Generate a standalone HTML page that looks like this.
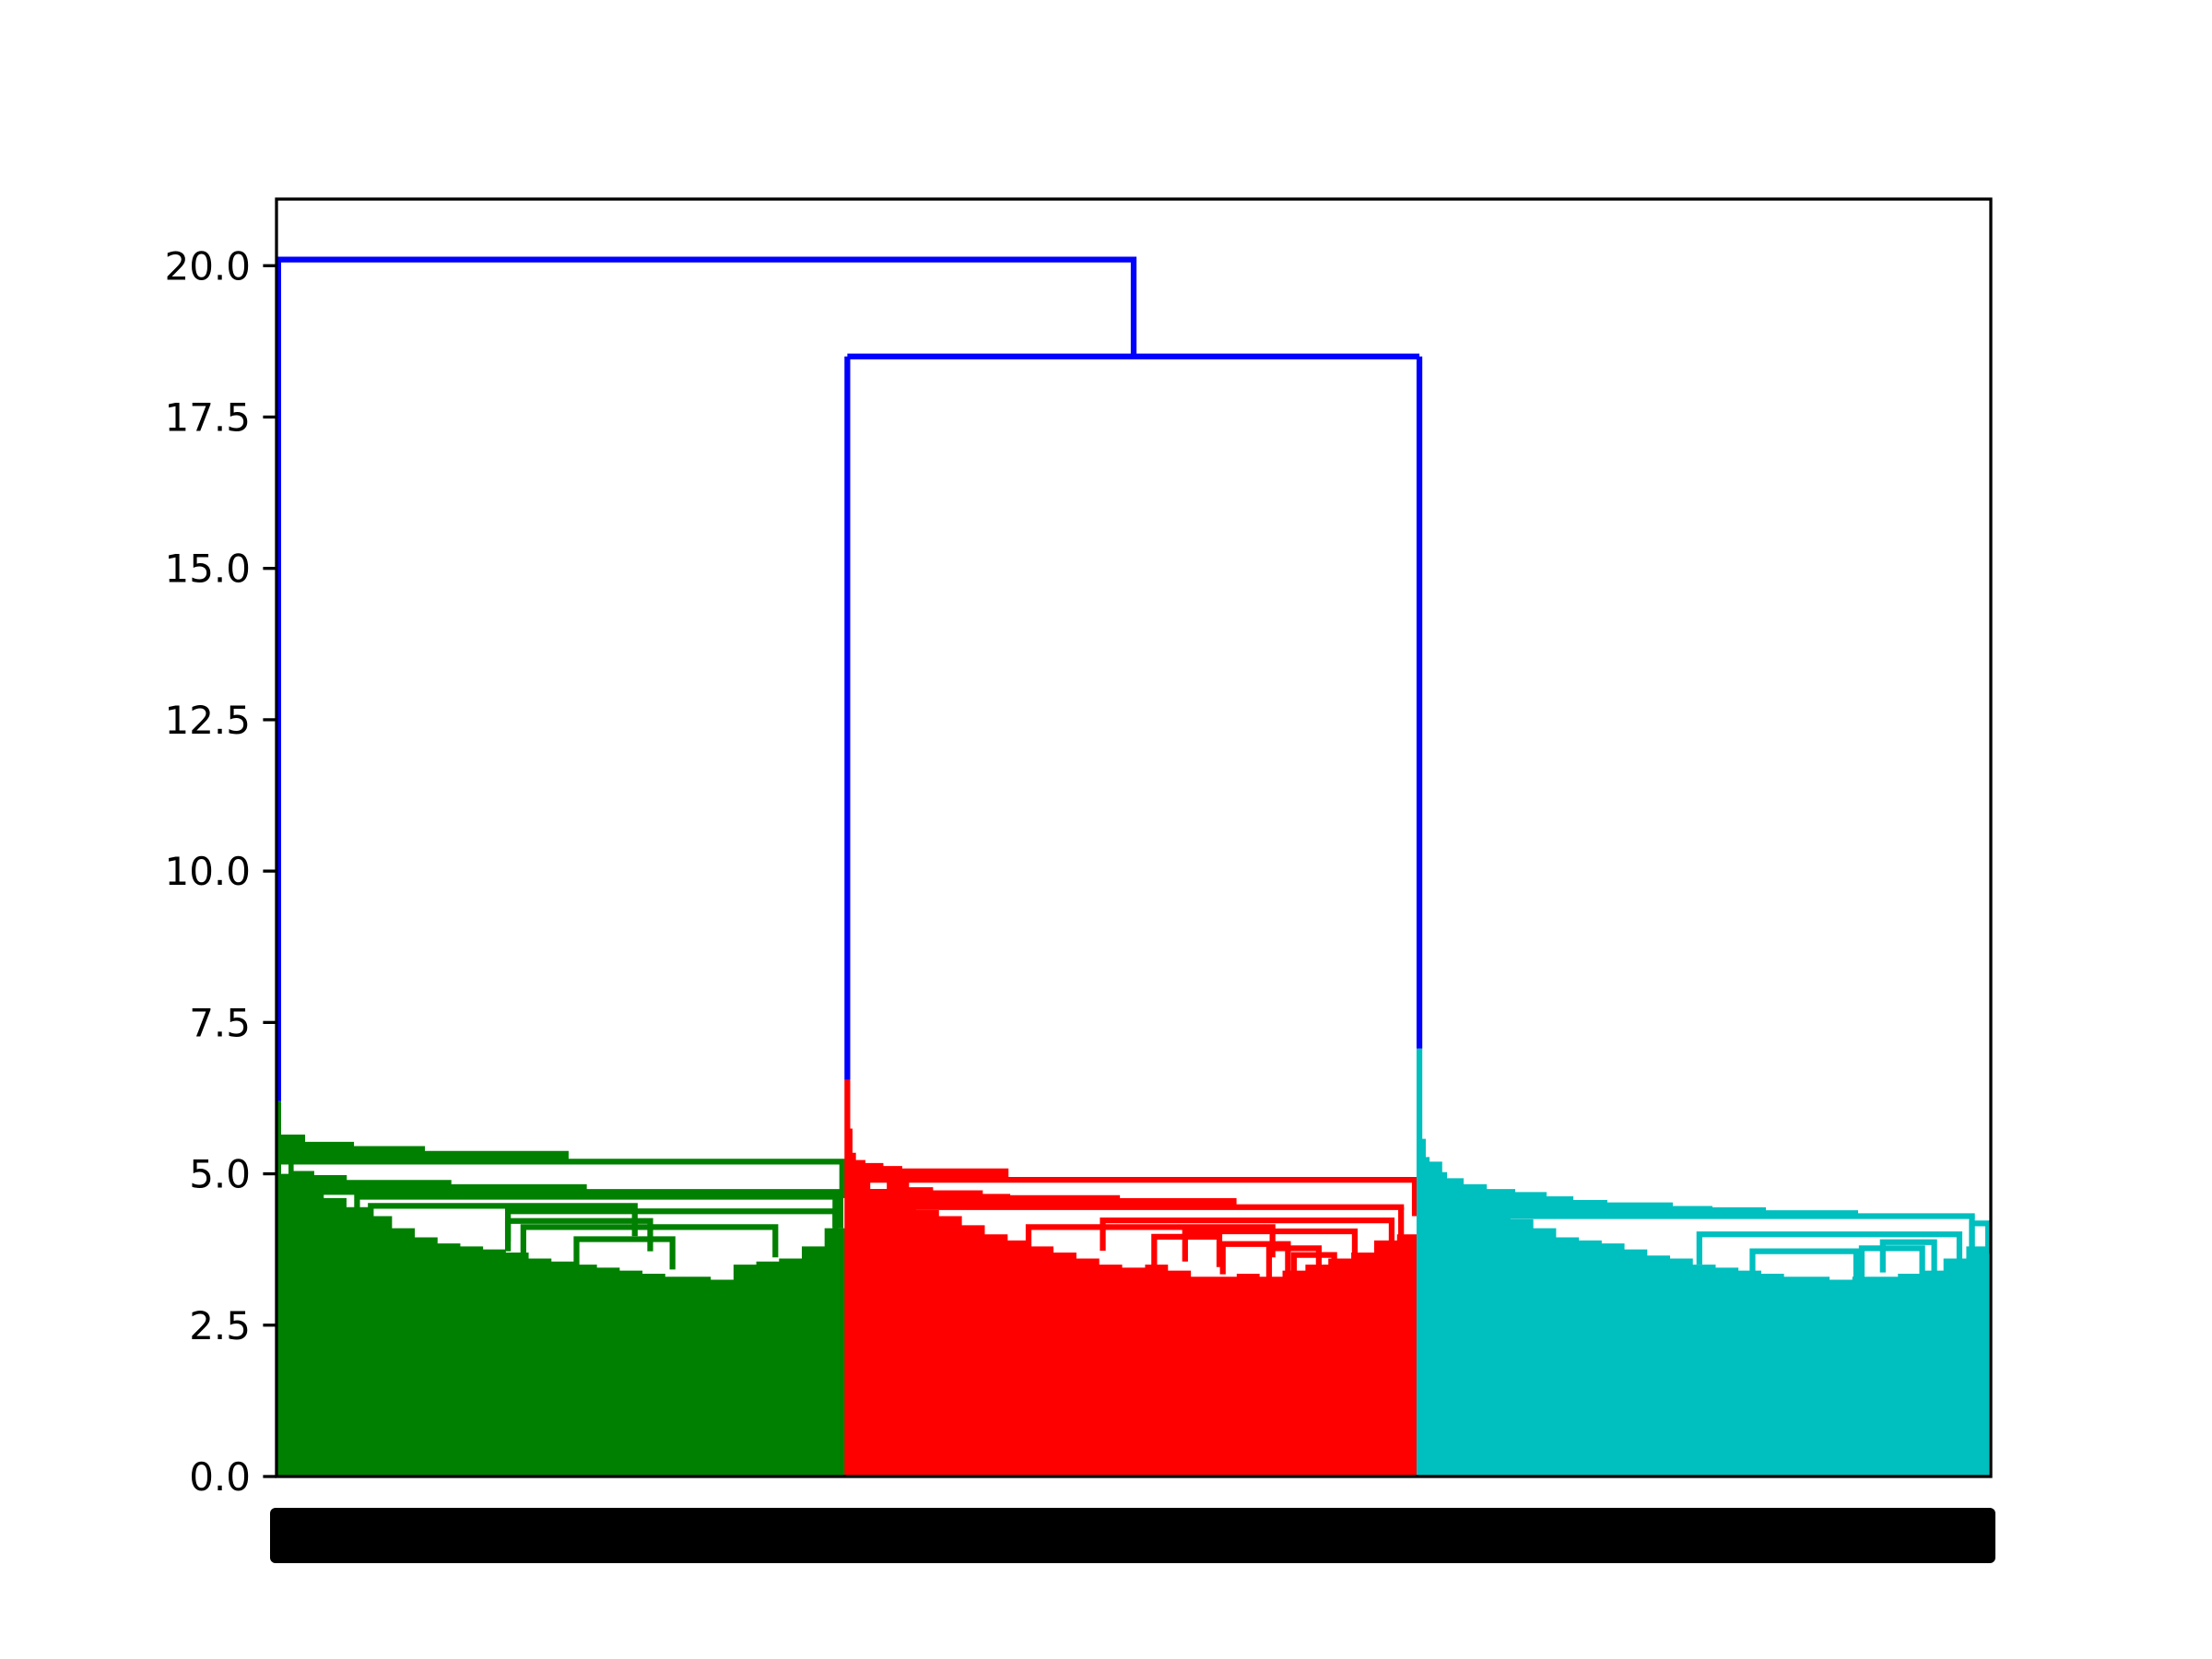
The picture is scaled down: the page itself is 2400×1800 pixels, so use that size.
<!DOCTYPE html>
<html><head><meta charset="utf-8"><title>Dendrogram</title>
<style>html,body{margin:0;padding:0;background:#fff}svg{display:block}</style></head>
<body>
<svg id="chart" width="2400" height="1800" viewBox="0 0 2400 1800" xmlns="http://www.w3.org/2000/svg">
<rect x="0" y="0" width="2400" height="1800" fill="#fff"/>
<g id="marks"></g>
<g id="leafLabels"></g>
<g id="yAxis"></g>
<rect x="300" y="216" width="1860" height="1386" fill="none" stroke="#000" stroke-width="3.3"/>
</svg>
<script>
// ---- data (leaf units 0..1000, heights in distance units) ----
const yTicks = [0, 2.5, 5, 7.5, 10, 12.5, 15, 17.5, 20];
const yTickLabels = ["0.0","2.5","5.0","7.5","10.0","12.5","15.0","17.5","20.0"];
const clusterNames = ["green","red","cyan"];
const clusterColors = ["#008000","#ff0000","#00bfbf"];
const clusterStart = [1, 333, 666.7];
const clusterEnd = [333, 667, 999];
const clusterTop = [6.2, 6.55, 7.07];
// upper link(s): [x0, x1, h]
const rootLink = [1, 500, 20.1];
const subLink = [333, 666.7, 18.5];
// staircase groups: start u, then steps [endU, h]
const greenG1Start = 1.1;
const greenG1 = [[16.7,5.6],[45.2,5.48],[86.6,5.41],[170.4,5.33],[330,5.2]];
const greenG2Start = 7;
const greenG2 = [[10,5.13],[22,5.0],[41,4.93],[102,4.85],[181,4.78],[329,4.7]];
const redG1Start = 333;
const redG1 = [[336,5.7],[338,5.3],[343.5,5.18],[354,5.13],[365,5.08],[427,5.04],[664,4.9]];
const redG2Start = 356;
const redG2 = [[369,4.83],[383,4.73],[412,4.68],[428,4.62],[492,4.6],[560,4.55],[656,4.45]];
const cyanG1Start = 666.7;
const cyanG1 = [[668.3,5.9],[670.4,5.53],[672.6,5.23],[675.8,5.08],[682.8,4.98],[692.5,4.88],[706,4.78],[722.6,4.7],[740.9,4.65],[756.5,4.58],[776.3,4.52],[814.5,4.48],[837.6,4.42],[868.8,4.4],[922.6,4.35],[989,4.3]];
// internal links [x0, x1, h]
const greenLinks = [[47,326,4.62],[55,209,4.47],[135,326,4.38],[135,218,4.22],[144,291,4.12],[175,231,3.92]];
const redLinks = [[482,650.5,4.23],[438.7,581,4.12],[530,629,4.05],[512,550,3.96],[552,590,3.84],[579,608,3.77],[593.5,617,3.66]];
const cyanLinks = [[830,981.7,4.0],[937,967,3.87],[924.7,960,3.77],[861,921.5,3.72],[989,998.4,4.18]];
// dense skyline heights (evenly spaced across each cluster)
const greenSky = [5.0,4.75,4.6,4.45,4.3,4.1,3.95,3.85,3.8,3.75,3.7,3.6,3.55,3.5,3.45,3.4,3.35,3.3,3.3,3.25,3.5,3.55,3.6,3.8,4.1];
const redSky = [4.9,4.75,4.6,4.4,4.3,4.15,4.0,3.9,3.8,3.7,3.6,3.5,3.45,3.5,3.4,3.3,3.3,3.35,3.3,3.4,3.5,3.6,3.7,3.9,4.0];
const cyanSky = [5.2,4.8,4.6,4.4,4.25,4.1,3.95,3.9,3.85,3.75,3.65,3.6,3.5,3.45,3.4,3.35,3.3,3.3,3.25,3.3,3.3,3.35,3.4,3.6,3.8];
const leafCount = 600;

// ---- axes ----
const X0=300, X1=2160, Y0=1602, YT=216, YMAX=21.1;
function xs(u){ return X0 + u*(X1-X0)/1000; }
function ys(v){ return Y0 - v*(Y0-YT)/YMAX; }
const NS="http://www.w3.org/2000/svg";
const marks=document.getElementById('marks');
const LW=6.25;
function mk(tag, attrs, parent){ const e=document.createElementNS(NS,tag); for(const k in attrs) e.setAttribute(k,attrs[k]); parent.appendChild(e); return e; }

function drawSky(start,end,sky,color,name){
  const n=sky.length, w=(end-start)/n;
  let pts=[[xs(start),Y0]];
  for(let i=0;i<n;i++){ pts.push([xs(start+i*w),ys(sky[i])]); pts.push([xs(start+(i+1)*w),ys(sky[i])]); }
  pts.push([xs(end),Y0]);
  const p=mk('polygon',{points:pts.map(q=>q.join(',')).join(' '),fill:color},marks);
  
  
}
function drawGroup(start,steps,color,name){
  let pts=[]; let x=start;
  pts.push([xs(start),ys(steps[0][1])-LW/2]);
  for(const s of steps){ pts.push([xs(x),ys(s[1])-LW/2]); pts.push([xs(s[0]),ys(s[1])-LW/2]); x=s[0]; }
  const last=steps[steps.length-1];
  pts.push([xs(last[0])+LW/2,ys(last[1])-LW/2]);
  pts.push([xs(last[0])+LW/2,ys(last[1])+LW/2]);
  pts.push([xs(start),ys(last[1])+LW/2]);
  const p=mk('polygon',{points:pts.map(q=>q.join(',')).join(' '),fill:color},marks);
  
  
  const d=mk('line',{x1:xs(last[0]),y1:ys(last[1]),x2:xs(last[0]),y2:ys(last[1]-0.6),stroke:color,'stroke-width':LW},marks);
  
  
}
function drawLink(l,color,name,drop){
  const p=mk('path',{d:`M${xs(l[0])},${ys(l[2]-drop)} V${ys(l[2])} H${xs(l[1])} V${ys(l[2]-drop)}`,fill:'none',stroke:color,'stroke-width':LW},marks);
  
  
}

const skies=[greenSky,redSky,cyanSky];
const links=[greenLinks,redLinks,cyanLinks];
for(let c=0;c<3;c++){
  drawSky(clusterStart[c],clusterEnd[c],skies[c],clusterColors[c],clusterNames[c]);
}
drawGroup(greenG2Start,greenG2,clusterColors[0],'green');
drawGroup(greenG1Start,greenG1,clusterColors[0],'green');
drawGroup(redG2Start,redG2,clusterColors[1],'red');
drawGroup(redG1Start,redG1,clusterColors[1],'red');
drawGroup(cyanG1Start,cyanG1,clusterColors[2],'cyan');
for(let c=0;c<3;c++){
  for(const l of links[c]) drawLink(l,clusterColors[c],clusterNames[c]+'-link',0.5);
  const st=mk('line',{x1:xs(clusterStart[c]),y1:ys(clusterTop[c]),x2:xs(clusterStart[c]),y2:Y0,stroke:clusterColors[c],'stroke-width':LW},marks);
  
  
}
// blue upper links
drawLink([subLink[0],subLink[1],subLink[2]],'#0000ff','link-red-cyan',0);
const l1=mk('line',{x1:xs(subLink[0]),y1:ys(subLink[2]),x2:xs(subLink[0]),y2:ys(clusterTop[1]),stroke:'#0000ff','stroke-width':LW},marks);


const l2=mk('line',{x1:xs(subLink[1]),y1:ys(subLink[2]),x2:xs(subLink[1]),y2:ys(clusterTop[2]),stroke:'#0000ff','stroke-width':LW},marks);


const rootH=mk('path',{d:`M${xs(rootLink[0])},${ys(clusterTop[0])} V${ys(rootLink[2])} H${xs(rootLink[1])} V${ys(subLink[2])}`,fill:'none',stroke:'#0000ff','stroke-width':LW},marks);



// ---- y axis ----
const ya=document.getElementById('yAxis');
yTicks.forEach((t,i)=>{
  const tk=mk('line',{x1:X0-14.6,x2:X0,y1:ys(t),y2:ys(t),stroke:'#000','stroke-width':3.3},ya);
  
  
  const tx=mk('text',{x:X0-28,y:ys(t)+15,'text-anchor':'end','font-size':42,'font-family':'"DejaVu Sans","Liberation Sans",sans-serif',fill:'#000'},ya);
  tx.textContent=yTickLabels[i];
  
  
});

// ---- leaf labels (dense, overlapping) ----
const ll=document.getElementById('leafLabels');
const band=mk('rect',{x:293,y:1636,width:1872,height:60,rx:6,fill:'#000'},ll);


for(let i=0;i<leafCount;i++){
  const x=X0+ (i+0.5)*(X1-X0)/leafCount;
  const t=mk('text',{x:0,y:0,transform:`translate(${x+5},1636) rotate(-90)`,'text-anchor':'end','font-size':16,'font-family':'"DejaVu Sans",sans-serif',fill:'#000'},ll);
  t.textContent=String((i*37)%1000);
  
  
}
</script>
</body></html>
